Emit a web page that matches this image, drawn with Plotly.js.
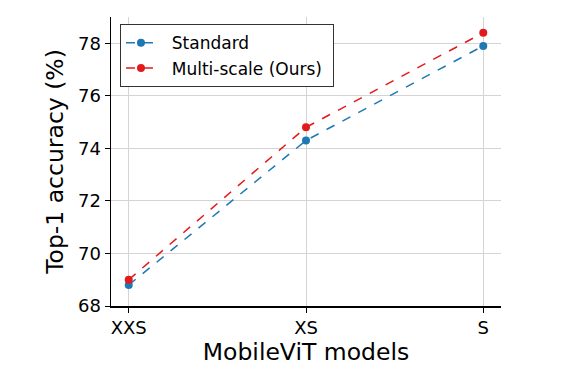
<!DOCTYPE html>
<html>
<head>
<meta charset="utf-8">
<script src="https://cdn.plot.ly/plotly-3.0.1.min.js"></script>
<style>html,body{margin:0;padding:0;background:#fff;}#chart{width:571px;height:375px;}</style>
</head>
<body>
<div id="chart"></div>
<script>
const categories = ["XXS", "XS", "S"];
const standard = [68.8, 74.3, 77.9];
const multiScale = [69.0, 74.8, 78.4];
const yTicks = [68, 70, 72, 74, 76, 78];
const seriesNames = ["Standard", "Multi-scale (Ours)"];

const font = "DejaVu Sans, sans-serif";
const xIdx = categories.map((_, i) => i);
const pad = s => "\u00a0\u00a0" + s + "\u00a0";

const traces = [
  {x: xIdx, y: standard, name: pad(seriesNames[0]), mode: "lines+markers",
   line: {color: "#1f78b4", dash: "dash", width: 1.5},
   marker: {color: "#1f78b4", size: 8}},
  {x: xIdx, y: multiScale, name: pad(seriesNames[1]), mode: "lines+markers",
   line: {color: "#e31a1c", dash: "dash", width: 1.5},
   marker: {color: "#e31a1c", size: 8}}
];

const layout = {
  width: 571, height: 375,
  margin: {l: 111, r: 70, t: 17, b: 69},
  paper_bgcolor: "#fff", plot_bgcolor: "#fff",
  font: {family: font, color: "#000"},
  xaxis: {
    range: [-0.1, 2.1], tickvals: xIdx, ticktext: categories,
    showline: true, linecolor: "#000", linewidth: 1.5,
    ticks: "outside", ticklen: 5, tickcolor: "#000",
    showgrid: true, gridcolor: "#d4d4d4", gridwidth: 1,
    zeroline: false, tickfont: {size: 18, family: font},
    title: {text: "MobileViT models", font: {size: 23.5, family: font}, standoff: 2}
  },
  yaxis: {
    range: [68, 79.0], tickvals: yTicks,
    showline: true, linecolor: "#000", linewidth: 1.5,
    ticks: "outside", ticklen: 5, tickcolor: "#000",
    showgrid: true, gridcolor: "#d4d4d4", gridwidth: 1,
    zeroline: false, tickfont: {size: 18, family: font},
    title: {text: "Top-1 accuracy (%)", font: {size: 23.5, family: font}, standoff: 8}
  },
  legend: {
    x: 0.023, y: 0.975, xanchor: "left", yanchor: "top",
    bgcolor: "#fff", bordercolor: "#333", borderwidth: 1,
    font: {size: 17, family: font}
  },
  showlegend: true
};

Plotly.newPlot("chart", traces, layout, {staticPlot: true, displayModeBar: false});
</script>
</body>
</html>
